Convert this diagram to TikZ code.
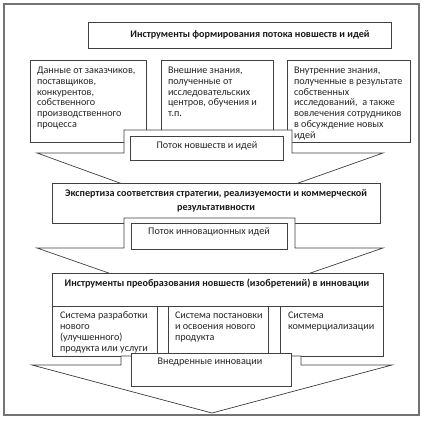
\documentclass[tikz,border=0pt]{standalone}
\usepackage{fontspec}
\setmainfont{Carlito}
\begin{document}
\begin{tikzpicture}[x=1bp,y=-1bp,
 ln/.style={draw=black!75, line width=0.7bp},
 box/.style={ln, fill=white, rectangle, inner sep=0pt, outer sep=0pt, anchor=north west},
 txt/.style={inner sep=0pt, outer sep=0pt, font=\fontsize{10.2}{10.8}\selectfont, align=left, anchor=north west, text=black!85},
 ctxt/.style={inner sep=0pt, outer sep=0pt, font=\fontsize{10.2}{11}\selectfont, align=center, text=black!85},
 btxt/.style={inner sep=0pt, outer sep=0pt, font=\bfseries\fontsize{10.2}{14}\selectfont, align=center, text=black!90}]
\useasboundingbox (0,0) rectangle (424,421);
\node[draw=black!55, line width=1.2bp, minimum width=415bp, minimum height=411bp, anchor=north west, inner sep=0pt, outer sep=0pt] (frame) at (4,4) {};
% top box
\node[box, minimum width=303bp, minimum height=26bp] (top) at (88,22) {};
\node[btxt] (toptxt) at (250,35) {Инструменты формирования потока новшеств и идей};
% three boxes
\node[box, minimum width=116bp, minimum height=82bp] (b1) at (30,60) {};
\node[box, minimum width=112bp, minimum height=82bp] (b2) at (161,60) {};
\node[box, minimum width=123bp, minimum height=82bp] (b3) at (287,60) {};
\node[txt] (t1) at (37,67) {Данные от заказчиков,\\поставщиков,\\конкурентов,\\собственного\\производственного\\процесса};
\node[txt] (t2) at (168,67) {Внешние знания,\\полученные от\\исследовательских\\центров, обучения и\\т.п.};
\node[txt] (t3) at (294,67) {Внутренние знания,\\полученные в результате\\собственных\\исследований,~ а также\\вовлечения сотрудников\\в обсуждение новых\\идей};
% arrow 1
\draw[ln, fill=white] (124,130) -- (292,130) -- (292,153) -- (383,153) -- (208,215) -- (37,153) -- (124,153) -- cycle;
\node[box, minimum width=153bp, minimum height=24bp] (f1) at (130,136) {};
\node[ctxt] (f1t) at (207,146) {Поток новшеств и идей};
% expertise
\node[box, minimum width=328bp, minimum height=40bp] (exp) at (52,183) {};
\node[btxt] (expt) at (216,201) {Экспертиза соответствия стратегии, реализуемости и коммерческой\\результативности};
% arrow 2
\draw[ln, fill=white] (124,218) -- (295,218) -- (295,248) -- (383,248) -- (209,308) -- (37,248) -- (124,248) -- cycle;
\node[box, minimum width=156bp, minimum height=26bp] (f2) at (131,223) {};
\node[ctxt] (f2t) at (209,232) {Поток инновационных идей};
% table
\node[box, minimum width=331bp, minimum height=33bp] (hdr) at (52,273) {};
\node[btxt] (hdrt) at (217,284) {Инструменты преобразования новшеств (изобретений) в инновации};
\node[box, minimum width=105bp, minimum height=50bp] (c1) at (52,306) {};
\node[box, minimum width=11bp, minimum height=50bp] (g1) at (157,306) {};
\node[box, minimum width=100bp, minimum height=50bp] (c2) at (168,306) {};
\node[box, minimum width=12bp, minimum height=50bp] (g2) at (268,306) {};
\node[box, minimum width=103bp, minimum height=50bp] (c3) at (280,306) {};
\node[txt] (c1t) at (60,312) {Система разработки\\нового\\(улучшенного)\\продукта или услуги};
\node[txt] (c2t) at (175,312) {Система постановки\\и освоения нового\\продукта};
\node[txt] (c3t) at (288,312) {Система\\коммерциализации};
% arrow 3
\draw[ln, fill=white] (121,356) -- (301,356) -- (301,365) -- (392,365) -- (212,413) -- (32,365) -- (121,365) -- cycle;
\node[box, minimum width=160bp, minimum height=33bp] (f3) at (131,353) {};
\node[ctxt] (f3t) at (210,362) {Внедренные инновации};
\end{tikzpicture}
\end{document}
